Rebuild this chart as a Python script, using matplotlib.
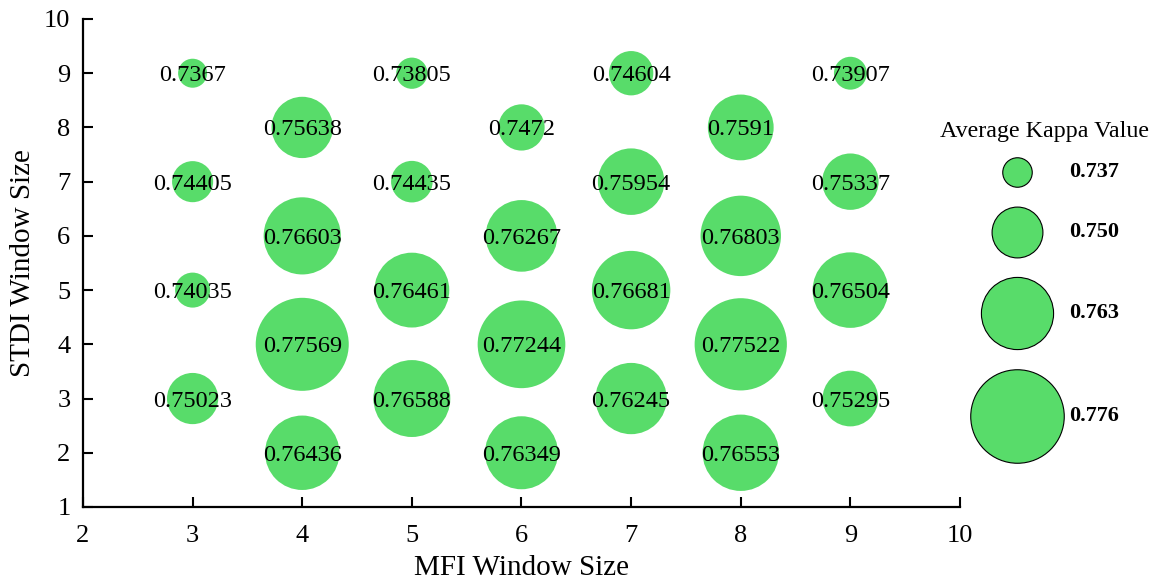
import numpy as np
import matplotlib.pyplot as plt

plt.rcParams['font.family'] = ['Liberation Serif', 'DejaVu Serif']

# window sizes and the average kappa obtained for each pair
mfi = [3, 5, 7, 9, 4, 6, 8, 3, 5, 7, 9, 4, 6, 8, 3, 5, 7, 9, 4, 6, 8, 3, 5, 7, 9, 4, 6, 8]
stdi = [9, 9, 9, 9, 8, 8, 8, 7, 7, 7, 7, 6, 6, 6, 5, 5, 5, 5, 4, 4, 4, 3, 3, 3, 3, 2, 2, 2]
kappa = [0.7367, 0.73805, 0.74604, 0.73907,
         0.75638, 0.7472, 0.7591,
         0.74405, 0.74435, 0.75954, 0.75337,
         0.76603, 0.76267, 0.76803,
         0.74035, 0.76461, 0.76681, 0.76504,
         0.77569, 0.77244, 0.77522,
         0.75023, 0.76588, 0.76245, 0.75295,
         0.76436, 0.76349, 0.76553]
legend_values = [0.737, 0.750, 0.763, 0.776]

green = '#58DC6A'
dpi = 100


def bubble_radius(v):
    # radius in pixels grows linearly with kappa
    return 14.5 + 821 * (np.asarray(v) - 0.7367)


def bubble_area(v):
    # scatter wants marker area in points^2
    return (2 * bubble_radius(v) * 72 / dpi) ** 2


fig = plt.figure(figsize=(11.54, 5.81), dpi=dpi)
ax = fig.add_axes([0.0719, 0.1274, 0.76, 0.8399])

ax.scatter(mfi, stdi, s=bubble_area(kappa), color=green, edgecolors='none', zorder=2)
for x, y, v in zip(mfi, stdi, kappa):
    ax.text(x, y, '{:g}'.format(v), ha='center', va='center_baseline',
            fontsize=17.5, zorder=3)

ax.set_xlim(2, 10)
ax.set_ylim(1, 10)
ax.set_xticks(range(2, 11))
ax.set_yticks(range(1, 11))
for side in ['top', 'right']:
    ax.spines[side].set_visible(False)
for side in ['left', 'bottom']:
    ax.spines[side].set_linewidth(1.6)
ax.tick_params(direction='in', length=7, width=1.5, labelsize=19)
ax.tick_params(axis='x', pad=13)
ax.tick_params(axis='y', pad=9)
ax.set_xlabel('MFI Window Size', fontsize=21, labelpad=6)
ax.set_ylabel('STDI Window Size', fontsize=21, labelpad=6)

# size legend drawn in its own pixel-space axes
lax = fig.add_axes([930 / 1154, 0, 224 / 1154, 1])
lax.set_xlim(930, 1154)
lax.set_ylim(581, 0)
lax.axis('off')
lax.text(1044, 131, 'Average Kappa Value', ha='center', va='center', fontsize=17.3)

gap = 20
y = 157
for i, v in enumerate(legend_values):
    r = float(bubble_radius(v))
    y += r
    lax.scatter([1017], [y], s=bubble_area(v), color=green, edgecolors='black',
                linewidths=0.8, clip_on=False)
    lax.text(1069, y, '{:.3f}'.format(v), ha='left', va='center',
             fontsize=16, fontweight='bold')
    y += r + gap

fig.savefig('out.png', dpi=dpi)
